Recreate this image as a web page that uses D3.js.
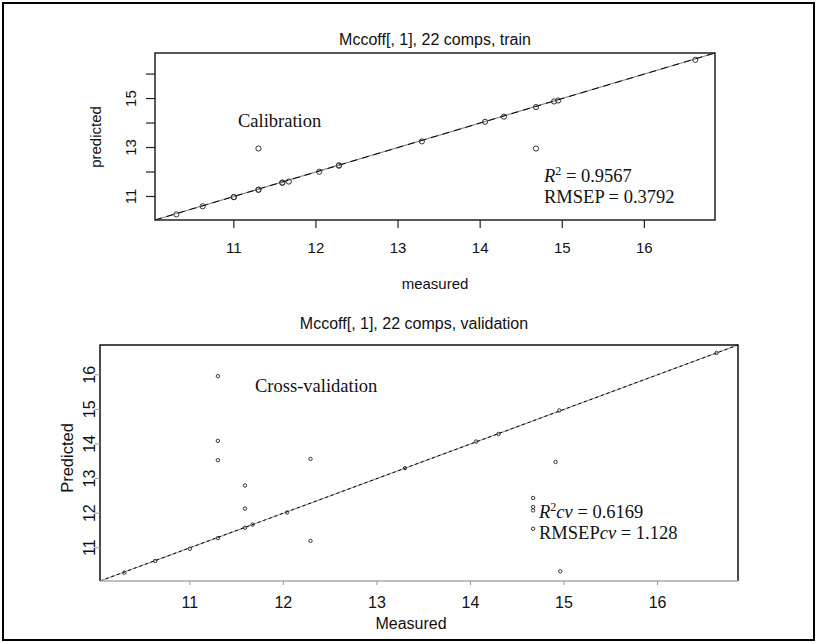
<!DOCTYPE html>
<html><head><meta charset="utf-8">
<script src="https://cdn.jsdelivr.net/npm/d3@7/dist/d3.min.js"></script>
<style>body{margin:0;background:#fff}svg{display:block}</style>
</head><body>
<svg id="c" width="817" height="642"></svg>
<script>
// ---- data ----
const trainMeasured  = [10.30, 10.62, 11.00, 11.00, 11.30, 11.30, 11.30, 11.59, 11.59, 11.67, 12.04, 12.28, 12.28, 13.29, 14.06, 14.29, 14.68, 14.68, 14.90, 14.95, 16.62];
const trainPredicted = [10.27, 10.60, 10.97, 10.98, 11.27, 11.28, 12.96, 11.56, 11.57, 11.61, 12.01, 12.26, 12.27, 13.25, 14.05, 14.26, 14.65, 12.96, 14.88, 14.92, 16.58];
const cvMeasured  = [10.30, 10.63, 11.00, 11.30, 11.30, 11.30, 11.30, 11.59, 11.59, 11.59, 11.67, 12.04, 12.29, 12.29, 13.30, 14.06, 14.30, 14.67, 14.67, 14.67, 14.67, 14.91, 14.95, 14.96, 16.63];
const cvPredicted = [10.28, 10.62, 10.97, 11.28, 13.53, 14.09, 15.96, 11.58, 12.13, 12.80, 11.67, 12.02, 11.20, 13.57, 13.30, 14.07, 14.29, 12.44, 12.18, 12.08, 11.55, 13.48, 14.97, 10.32, 16.63];
const axisDomain = [10.04, 16.86];
const xTickValues = [11, 12, 13, 14, 15, 16];
const topYTicks = [11, 12, 13, 14, 15, 16];
const topYTickLabels = [11, 13, 15];
const bottomYTicks = [11, 12, 13, 14, 15, 16];
const titles = ["Mccoff[, 1], 22 comps, train", "Mccoff[, 1], 22 comps, validation"];
const xLabels = ["measured", "Measured"];
const yLabels = ["predicted", "Predicted"];

const SANS = "'Liberation Sans', Arial, sans-serif";
const SERIF = "'Liberation Serif', 'Times New Roman', serif";

const svg = d3.select('#c');
svg.append('rect').attr('x', 0).attr('y', 0).attr('width', 817).attr('height', 642).attr('fill', '#fff');
svg.append('rect').attr('x', 3).attr('y', 3).attr('width', 811).attr('height', 637)
  .attr('fill', 'none').attr('stroke', '#000').attr('stroke-width', 2);

// ===== TOP PANEL =====
{
  const x = d3.scaleLinear().domain(axisDomain).range([155, 715]);
  const y = d3.scaleLinear().domain(axisDomain).range([220, 53]);
  const g = svg.append('g');
  g.append('line').attr('x1', x(axisDomain[0])).attr('y1', y(axisDomain[0]))
    .attr('x2', x(axisDomain[1])).attr('y2', y(axisDomain[1]))
    .attr('stroke', '#888').attr('stroke-width', 1.2);
  g.append('line').attr('x1', x(axisDomain[0])).attr('y1', y(axisDomain[0]))
    .attr('x2', x(axisDomain[1])).attr('y2', y(axisDomain[1]))
    .attr('stroke', '#000').attr('stroke-width', 1).attr('stroke-dasharray', '7,5');
  g.selectAll('circle.p').data(trainMeasured).enter().append('circle')
    .attr('cx', d => x(d)).attr('cy', (d, i) => y(trainPredicted[i]))
    .attr('r', 2.6).attr('fill', 'none').attr('stroke', '#333').attr('stroke-width', 1);
  g.append('rect').attr('x', 155).attr('y', 53).attr('width', 560).attr('height', 167)
    .attr('fill', 'none').attr('stroke', '#222').attr('stroke-width', 1.5);
  xTickValues.forEach(v => {
    g.append('line').attr('x1', x(v)).attr('x2', x(v)).attr('y1', 220).attr('y2', 228)
      .attr('stroke', '#222').attr('stroke-width', 1.2);
    g.append('text').attr('x', x(v)).attr('y', 247).attr('text-anchor', 'middle')
      .attr('dominant-baseline', 'central').attr('font-family', SANS).attr('font-size', 15)
      .attr('fill', '#111').text(v);
  });
  topYTicks.forEach(v => {
    g.append('line').attr('x1', 146).attr('x2', 155).attr('y1', y(v)).attr('y2', y(v))
      .attr('stroke', '#222').attr('stroke-width', 1.2);
  });
  topYTickLabels.forEach(v => {
    g.append('text').attr('transform', `translate(130,${y(v)}) rotate(-90)`)
      .attr('text-anchor', 'middle').attr('dominant-baseline', 'central')
      .attr('font-family', SANS).attr('font-size', 15).attr('fill', '#111').text(v);
  });
  g.append('text').attr('x', 435).attr('y', 39).attr('text-anchor', 'middle')
    .attr('dominant-baseline', 'central').attr('font-family', SANS).attr('font-size', 16)
    .attr('fill', '#111').text(titles[0]);
  g.append('text').attr('x', 435).attr('y', 283).attr('text-anchor', 'middle')
    .attr('dominant-baseline', 'central').attr('font-family', SANS).attr('font-size', 15)
    .attr('fill', '#111').text(xLabels[0]);
  g.append('text').attr('transform', 'translate(95,137) rotate(-90)').attr('text-anchor', 'middle')
    .attr('dominant-baseline', 'central').attr('font-family', SANS).attr('font-size', 15)
    .attr('fill', '#111').text(yLabels[0]);
  g.append('text').attr('x', 238).attr('y', 127).attr('font-family', SERIF).attr('font-size', 18.5)
    .attr('fill', '#111').text('Calibration');
  const r2 = g.append('text').attr('x', 544).attr('y', 182).attr('font-family', SERIF)
    .attr('font-size', 18.5).attr('fill', '#111');
  r2.append('tspan').attr('font-style', 'italic').text('R');
  r2.append('tspan').attr('font-size', 12).attr('dy', -7).text('2');
  r2.append('tspan').attr('dy', 7).text(' = 0.9567');
  g.append('text').attr('x', 544).attr('y', 203).attr('font-family', SERIF).attr('font-size', 18.5)
    .attr('fill', '#111').text('RMSEP = 0.3792');
}

// ===== BOTTOM PANEL =====
{
  const x = d3.scaleLinear().domain(axisDomain).range([100, 738]);
  const y = d3.scaleLinear().domain(axisDomain).range([581, 345]);
  const g = svg.append('g');
  g.append('line').attr('x1', x(axisDomain[0])).attr('y1', y(axisDomain[0]))
    .attr('x2', x(axisDomain[1])).attr('y2', y(axisDomain[1]))
    .attr('stroke', '#999').attr('stroke-width', 1.1);
  g.append('line').attr('x1', x(axisDomain[0])).attr('y1', y(axisDomain[0]))
    .attr('x2', x(axisDomain[1])).attr('y2', y(axisDomain[1]))
    .attr('stroke', '#000').attr('stroke-width', 1).attr('stroke-dasharray', '3,3');
  g.selectAll('circle.p').data(cvMeasured).enter().append('circle')
    .attr('cx', d => x(d)).attr('cy', (d, i) => y(cvPredicted[i]))
    .attr('r', 1.7).attr('fill', 'none').attr('stroke', '#333').attr('stroke-width', 1);
  g.append('path').attr('d', `M100,581 L100,345 L738,345 L738,581`)
    .attr('fill', 'none').attr('stroke', '#111').attr('stroke-width', 1.5);
  g.append('line').attr('x1', 100).attr('x2', 738).attr('y1', 581).attr('y2', 581)
    .attr('stroke', '#aaa').attr('stroke-width', 1.5);
  xTickValues.forEach(v => {
    g.append('line').attr('x1', x(v)).attr('x2', x(v)).attr('y1', 581).attr('y2', 585)
      .attr('stroke', '#999').attr('stroke-width', 1);
    g.append('text').attr('x', x(v)).attr('y', 602).attr('text-anchor', 'middle')
      .attr('dominant-baseline', 'central').attr('font-family', SANS).attr('font-size', 16)
      .attr('fill', '#111').text(v);
  });
  bottomYTicks.forEach(v => {
    g.append('line').attr('x1', 95).attr('x2', 100).attr('y1', y(v)).attr('y2', y(v))
      .attr('stroke', '#999').attr('stroke-width', 1);
    g.append('text').attr('transform', `translate(89,${y(v)}) rotate(-90)`)
      .attr('text-anchor', 'middle').attr('dominant-baseline', 'central')
      .attr('font-family', SANS).attr('font-size', 16).attr('fill', '#111').text(v);
  });
  g.append('text').attr('x', 414).attr('y', 323).attr('text-anchor', 'middle')
    .attr('dominant-baseline', 'central').attr('font-family', SANS).attr('font-size', 16)
    .attr('fill', '#111').text(titles[1]);
  g.append('text').attr('x', 411).attr('y', 623).attr('text-anchor', 'middle')
    .attr('dominant-baseline', 'central').attr('font-family', SANS).attr('font-size', 16)
    .attr('fill', '#111').text(xLabels[1]);
  g.append('text').attr('transform', 'translate(67,458) rotate(-90)').attr('text-anchor', 'middle')
    .attr('dominant-baseline', 'central').attr('font-family', SANS).attr('font-size', 16.5)
    .attr('fill', '#111').text(yLabels[1]);
  g.append('text').attr('x', 255).attr('y', 392).attr('font-family', SERIF).attr('font-size', 18.5)
    .attr('fill', '#111').text('Cross-validation');
  const r2 = g.append('text').attr('x', 539).attr('y', 518).attr('font-family', SERIF)
    .attr('font-size', 18.5).attr('fill', '#111');
  r2.append('tspan').attr('font-style', 'italic').text('R');
  r2.append('tspan').attr('font-size', 12).attr('dy', -7).text('2');
  r2.append('tspan').attr('dy', 7).attr('font-style', 'italic').text('cv');
  r2.append('tspan').text(' = 0.6169');
  const rm = g.append('text').attr('x', 539).attr('y', 539).attr('font-family', SERIF)
    .attr('font-size', 18.5).attr('fill', '#111');
  rm.append('tspan').text('RMSEP');
  rm.append('tspan').attr('font-style', 'italic').text('cv');
  rm.append('tspan').text(' = 1.128');
}
</script>
</body></html>
